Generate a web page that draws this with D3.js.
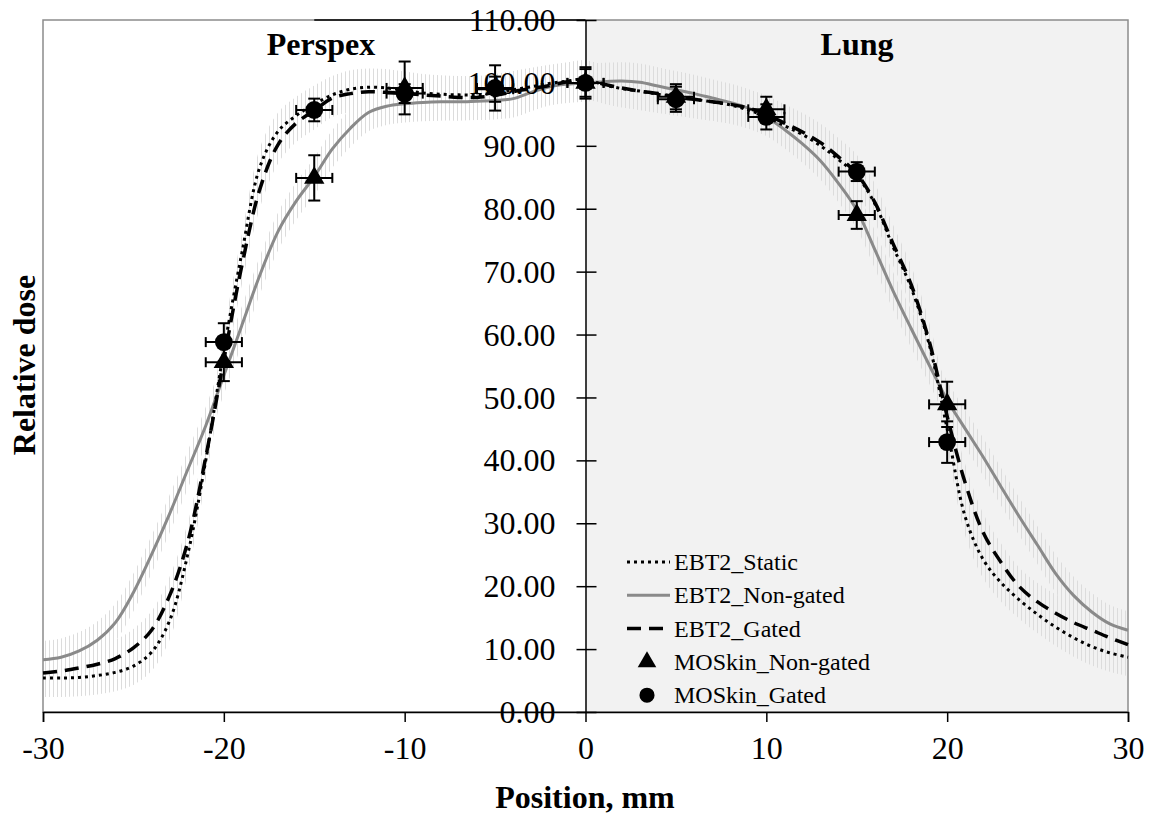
<!DOCTYPE html>
<html>
<head>
<meta charset="utf-8">
<script src="https://cdn.jsdelivr.net/npm/d3@7"></script>
<style>
  body { margin: 0; background: #fff; }
  svg text { font-family: "Liberation Serif", "Times New Roman", serif; fill: #000; }
</style>
</head>
<body>
<div id="chart"></div>
<script>
// Film profile positions (mm) and EBT2 relative doses
const positions = d3.range(-30, 31, 1);

const ebt2Static = [
    5.4, 5.4, 5.5, 5.8, 6.3, 7.3, 9.5, 14.5, 25.0, 40.0,
    57.5, 73.0, 86.7, 92.3, 94.8, 96.6, 98.1, 99.0, 99.3, 99.2,
    98.8, 98.4, 98.2, 98.1, 98.1, 98.4, 98.9, 99.4, 99.9, 100.3,
    100.6,
    99.7, 99.1, 98.7, 98.2, 97.8, 97.4, 97.0, 96.5, 95.7, 94.6,
    93.2, 91.8, 90.0, 87.8, 85.3, 80.8, 74.0, 67.5, 58.5, 45.0,
    31.0, 24.2, 20.5, 17.8, 15.5, 13.5, 11.8, 10.4, 9.4, 8.7
];
const ebt2NonGated = [
    8.3, 8.7, 9.7, 11.4, 14.2, 19.0, 25.0, 31.5, 38.5, 45.5,
    53.5, 61.5, 69.5, 76.4, 81.2, 85.1, 89.5, 92.8, 95.3, 96.3,
    96.7, 96.9, 97.0, 97.0, 97.1, 97.2, 97.5, 98.5, 99.4, 99.8,
    100.0,
    100.2, 100.3, 100.1, 99.5, 98.9, 98.3, 97.6, 96.9, 96.0, 94.6,
    92.6, 90.3, 87.6, 84.0, 79.8, 73.5, 67.0, 61.0, 55.2, 49.6,
    45.0, 40.5, 35.7, 31.0, 26.5, 22.0, 18.5, 15.9, 14.0, 13.0
];
const ebt2Gated = [
    6.2, 6.5, 7.0, 7.6, 8.5, 10.2, 13.0, 18.5, 27.0, 40.5,
    56.0, 71.0, 83.2, 90.2, 93.6, 95.6, 97.6, 98.3, 98.6, 98.5,
    98.3, 98.1, 97.9, 97.7, 97.7, 98.0, 98.6, 99.1, 99.6, 100.2,
    100.6,
    99.8, 99.2, 98.7, 98.3, 97.8, 97.4, 97.0, 96.6, 96.0, 95.0,
    93.6, 92.2, 90.5, 88.2, 85.6, 81.0, 74.5, 68.0, 59.0, 47.0,
    36.4, 28.5, 23.7, 19.9, 17.5, 15.7, 14.2, 13.0, 11.8, 10.7
];
const filmError = 3; // +/- relative dose shown as light hatching

// MOSkin detector points
const mosPositions = [-20, -15, -10, -5, 0, 5, 10, 15, 20];
const mosNonGated = [55.6, 84.9, 99.2, 99.0, 100.0, 97.8, 95.8, 79.0, 48.9];
const mosNonGatedErr = [3.0, 3.6, 4.2, 2.0, 2.5, 2.0, 2.0, 2.2, 3.6];
const mosGated = [58.8, 95.7, 98.3, 99.2, 100.0, 97.4, 94.6, 85.9, 42.9];
const mosGatedErr = [3.0, 1.8, 1.5, 3.6, 2.2, 2.0, 2.0, 1.5, 3.3];
const mosPosErr = 1; // mm

const xTicks = [-30, -20, -10, 0, 10, 20, 30];
const yTicks = d3.range(0, 111, 10);

const width = 1154, height = 818;
const x = d3.scaleLinear().domain([-30, 30]).range([43, 1128]);
const y = d3.scaleLinear().domain([0, 110]).range([712, 20]);

const svg = d3.select("#chart").append("svg")
    .attr("width", width)
    .attr("height", height);

// hatching pattern for film error bars
const defs = svg.append("defs");
defs.append("pattern")
    .attr("id", "hatch")
    .attr("patternUnits", "userSpaceOnUse")
    .attr("width", 4)
    .attr("height", 10)
    .append("line")
    .attr("x1", 1.5).attr("x2", 1.5)
    .attr("y1", 0).attr("y2", 10)
    .attr("stroke", "#dcdcdc")
    .attr("stroke-width", 1);

// lung region shading
svg.append("rect")
    .attr("x", x(0))
    .attr("y", y(110))
    .attr("width", x(30) - x(0))
    .attr("height", y(0) - y(110))
    .attr("fill", "#f2f2f2");

// plot frame
svg.append("rect")
    .attr("x", x(-30))
    .attr("y", y(110))
    .attr("width", x(30) - x(-30))
    .attr("height", y(0) - y(110))
    .attr("fill", "none")
    .attr("stroke", "#8c8c8c")
    .attr("stroke-width", 1.5);
svg.append("line")
    .attr("x1", x(-15)).attr("x2", x(0))
    .attr("y1", y(110)).attr("y2", y(110))
    .attr("stroke", "#000")
    .attr("stroke-width", 1.5);

const series = [
    { name: "EBT2_Static", values: ebt2Static, stroke: "#000", width: 3, dash: "3,4" },
    { name: "EBT2_Non-gated", values: ebt2NonGated, stroke: "#8a8a8a", width: 3, dash: null },
    { name: "EBT2_Gated", values: ebt2Gated, stroke: "#000", width: 3.5, dash: "14,8" }
];

const curve = d3.curveCatmullRom.alpha(0.5);

// error hatching bands
const band = d3.area()
    .x((d, i) => x(positions[i]))
    .y0(d => y(Math.max(0, d - filmError)))
    .y1(d => y(d + filmError))
    .curve(curve);

svg.append("g")
    .selectAll("path")
    .data(series)
    .join("path")
    .attr("d", d => band(d.values))
    .attr("fill", "url(#hatch)");

// film lines
const line = d3.line()
    .x((d, i) => x(positions[i]))
    .y(d => y(d))
    .curve(curve);

svg.append("g")
    .selectAll("path")
    .data([series[1], series[0], series[2]])
    .join("path")
    .attr("d", d => line(d.values))
    .attr("fill", "none")
    .attr("stroke", d => d.stroke)
    .attr("stroke-width", d => d.width)
    .attr("stroke-dasharray", d => d.dash);

// x axis
const xAxis = svg.append("g")
    .attr("transform", `translate(0,${y(0)})`)
    .call(d3.axisBottom(x).tickValues(xTicks).tickSize(10).tickPadding(8).tickFormat(d3.format("d")));
xAxis.select(".domain").attr("stroke", "#000").attr("stroke-width", 1.5);
xAxis.selectAll(".tick line").attr("stroke-width", 1.5);
xAxis.selectAll("text")
    .attr("font-family", "Liberation Serif")
    .attr("font-size", 32)
    .attr("dy", "0.9em")
    .text(d => d < 0 ? "-" + Math.abs(d) : d);

// y axis at position 0
const yAxis = svg.append("g")
    .attr("transform", `translate(${x(0)},0)`)
    .call(d3.axisLeft(y).tickValues(yTicks).tickSizeInner(9).tickSizeOuter(0).tickPadding(21).tickFormat(d3.format(".2f")));
yAxis.select(".domain").attr("stroke", "#000").attr("stroke-width", 1.5);
yAxis.selectAll(".tick line")
    .attr("x1", 11)
    .attr("stroke-width", 1.5);
yAxis.selectAll("text")
    .attr("font-family", "Liberation Serif")
    .attr("font-size", 32)
    .attr("dy", "0.33em");

// MOSkin error bars and markers
function drawMos(vals, errs, kind) {
    const g = svg.append("g").attr("stroke", "#000").attr("stroke-width", 2);
    mosPositions.forEach((p, i) => {
        const cx = x(p), cy = y(vals[i]);
        const x0 = x(p - mosPosErr), x1 = x(p + mosPosErr);
        const y0 = y(vals[i] - errs[i]), y1 = y(vals[i] + errs[i]);
        g.append("line").attr("x1", x0).attr("x2", x1).attr("y1", cy).attr("y2", cy);
        g.append("line").attr("x1", x0).attr("x2", x0).attr("y1", cy - 5).attr("y2", cy + 5);
        g.append("line").attr("x1", x1).attr("x2", x1).attr("y1", cy - 5).attr("y2", cy + 5);
        g.append("line").attr("x1", cx).attr("x2", cx).attr("y1", y0).attr("y2", y1);
        g.append("line").attr("x1", cx - 6).attr("x2", cx + 6).attr("y1", y0).attr("y2", y0);
        g.append("line").attr("x1", cx - 6).attr("x2", cx + 6).attr("y1", y1).attr("y2", y1);
    });
    svg.append("g")
        .selectAll("path")
        .data(vals)
        .join("path")
        .attr("transform", (d, i) => `translate(${x(mosPositions[i])},${y(d)})`)
        .attr("d", d3.symbol().type(kind === "triangle" ? d3.symbolTriangle : d3.symbolCircle).size(kind === "triangle" ? 180 : 250))
        .attr("fill", "#000");
}
drawMos(mosNonGated, mosNonGatedErr, "triangle");
drawMos(mosGated, mosGatedErr, "circle");

// legend
const legendItems = [
    { name: "EBT2_Static", type: "line", s: series[0] },
    { name: "EBT2_Non-gated", type: "line", s: series[1] },
    { name: "EBT2_Gated", type: "line", s: series[2] },
    { name: "MOSkin_Non-gated", type: "triangle" },
    { name: "MOSkin_Gated", type: "circle" }
];
const legend = svg.append("g");
legendItems.forEach((d, i) => {
    const ly = 562 + i * 33.3;
    if (d.type === "line") {
        legend.append("line")
            .attr("x1", 627).attr("x2", 670)
            .attr("y1", ly).attr("y2", ly)
            .attr("stroke", d.s.stroke)
            .attr("stroke-width", d.s.width)
            .attr("stroke-dasharray", d.s.dash);
    } else {
        legend.append("path")
            .attr("transform", `translate(647,${ly})`)
            .attr("d", d3.symbol().type(d.type === "triangle" ? d3.symbolTriangle : d3.symbolCircle).size(d.type === "triangle" ? 150 : 180))
            .attr("fill", "#000");
    }
    legend.append("text")
        .attr("x", 674)
        .attr("y", ly)
        .attr("dy", "0.33em")
        .attr("font-size", 24)
        .text(d.name);
});

// titles
svg.append("text")
    .attr("x", 321).attr("y", 55)
    .attr("text-anchor", "middle")
    .attr("font-size", 32)
    .attr("font-weight", "bold")
    .text("Perspex");
svg.append("text")
    .attr("x", 857).attr("y", 55)
    .attr("text-anchor", "middle")
    .attr("font-size", 32)
    .attr("font-weight", "bold")
    .text("Lung");
svg.append("text")
    .attr("x", 585).attr("y", 808)
    .attr("text-anchor", "middle")
    .attr("font-size", 32)
    .attr("font-weight", "bold")
    .text("Position, mm");
svg.append("text")
    .attr("transform", "translate(35,365) rotate(-90)")
    .attr("text-anchor", "middle")
    .attr("font-size", 32)
    .attr("font-weight", "bold")
    .text("Relative dose");
</script>
</body>
</html>
